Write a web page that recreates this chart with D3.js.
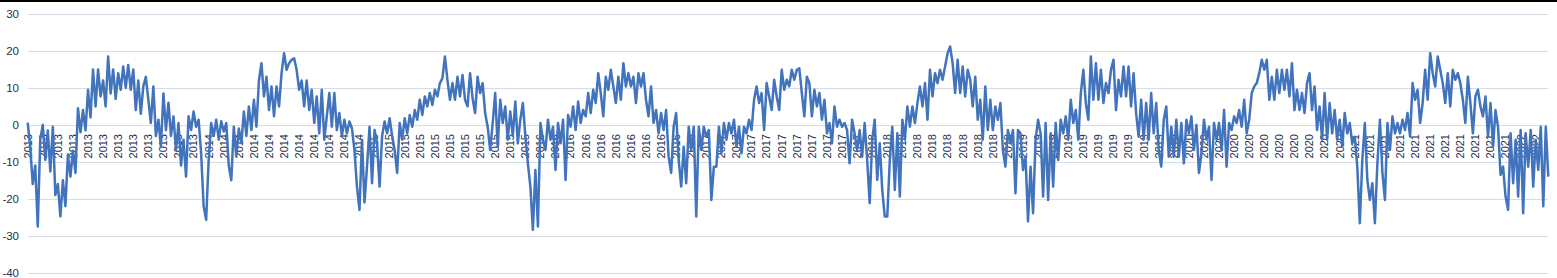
<!DOCTYPE html>
<html>
<head>
<meta charset="utf-8">
<script src="https://cdn.jsdelivr.net/npm/d3@7"></script>
<style>
  html, body { margin: 0; padding: 0; background: #fff; overflow: hidden; }
</style>
</head>
<body>
<div id="chart"></div>
<script>
// temperature readings, one per category
const temps = [
  0.6,-6,-16,-11,-27.5,-4,0,-9.5,-1.5,-12.6,
  -0.5,-19,-16,-24.8,-15,-22,-8,-14,-7,-13,
  4.5,-2,4,-1.5,9.5,2,15,5,15,7.7,
  12,5,18.5,8.5,15,7,14,9.5,15.8,10,
  16.2,9.5,15,4,12,3,10.4,13,6.8,0.5,
  10.4,-3,1.4,-6,8.5,-1.4,6,-3,2.3,-6.8,
  0.5,-11,-4,-14,2.3,-1.4,3.6,-0.5,1.4,-7.7,
  -22,-25.7,-9.5,0.5,-3,1.4,-4,1,-1.8,0.5,
  -11,-15,-0.5,-8.5,-1,-5,3.6,-3,5,-1.4,
  6.8,-0.5,12,16.7,7.7,13,4,10.4,2.3,10.4,
  5,14,19.4,
  14.9,16.7,17.6,18,14.9,9.5,12,5,12,4,
  9.5,0.5,7.7,-2.3,9.5,-4,2.3,8.6,-0.5,8.6,
  -1.4,3.2,-3,1.4,-2.3,0.9,-0.9,-6.8,-16.7,-23,
  -4,-21,-11.3,-0.5,-15.8,-1.4,-5,-16.7,-3,0.9,
  -2.3,1.8,-3,-6.8,-13,0.5,-4,1.8,-2.3,2.7,
  -0.5,4,1.4,6.8,2.7,7.7,5,8.6,5.4,9.5,
  7.7,11.3,12.6,18.5,12.2,6.8,11.3,6.8,13,7.7,
  13.5,6.8,5,14,7.2,3.2,13,8.6,11.3,3.2,
  -0.5,-6.8,0.5,8.6,-5.9,6.8,0.5,5,-4,3.6,
  -3,6.3,-5,1.4,5.9,-3,-10.4,-16.7,-28.4,-12.2,
  -27.5,
  0.5,-4,-6.8,1.4,-4,-0.5,-12.2,0.5,-5,1.4,
  -14.9,2.7,-0.5,5,-1.4,6.3,0.5,4,2.3,8.6,
  3.2,9.5,5.9,14,8.6,2.3,13,9.5,14.9,10.4,
  5.9,13,6.8,16.7,10.4,14,10.4,13,5.9,14,
  10.4,14,6.8,2.3,10.4,0.5,4,-2.3,3.2,-1.4,
  4,-8.6,-13,-0.5,3.2,-9.5,-16.7,-5.9,-15.8,-0.5,
  -6.8,-0.5,-24.8,-0.5,-6.8,-0.5,-3.2,-1.4,-20.3,-11.3,
  -11.3,-0.5,-7.7,0.5,-4,0.5,-2.3,1.4,-5.9,-0.5,
  -7.7,-0.5,-2.3,1.4,-1.4,6.8,10.4,5.9,8.6,-1.4,
  11.3,7.7,4,12.2,7.7,4,14.9,9.5,12.2,10.4,
  14.9,12.2,
  14.9,15.3,8.6,2.3,13,11.3,2.3,9.5,5,8.6,
  1.4,6.8,-2.3,0.5,-5,5,-0.5,1.4,-0.5,0.5,
  -1.4,-10.4,1.4,-2.3,-6.8,-1.4,-8.6,0.5,-9.5,-21.2,
  -4,1.4,-14.9,-5,-17.6,-24.8,-24.8,-9.5,-0.5,-17.6,
  -2.3,-19.4,1.4,-4,5,-0.5,5,0.5,5.9,10.4,
  5,11.3,1.4,14.9,7.7,14,11.3,14.9,12.2,15.8,
  19.4,21.2,16.7,8.6,17.6,8.6,15.8,7.7,14.9,12.2,
  5,13,1.4,6.8,-4,10.4,-1.4,6.8,-1.4,5,
  1.4,5.9,-6.8,-11.3,-1.4,-5,-1.4,-18.5,-1.4,-2.3,
  -12.2,-8.6,-26.1,-11.3,-23.9,-4,1.4,-2.3,-19.4,0.5,
  -20.3,
  -2.3,-16.7,0.5,-9.5,1.4,-2.3,2.3,-4,6.8,0.5,
  4,-4,8.6,14.9,5.9,1.4,18.5,6.8,16.7,6.8,
  14.9,5.9,11.3,8.6,14.9,17.6,4,12.2,7.7,15.8,
  7.7,15.8,5,14,3.2,-3.2,6.8,-4,5.9,-4,
  8.6,-2.3,5.9,-6.8,-11.3,1.4,5,-8.6,-0.5,-8.6,
  1.4,-8.6,0.5,-10.4,1.4,-2.3,2.3,-6.8,0,-13,
  -7.7,1.4,-4,-0.5,-14.9,0.5,-4,0.5,-6.8,4,
  -11.3,0.5,-1.4,2.3,0.5,4,-0.5,6.8,-2.3,1.4,
  8.6,10.4,11.3,14,17.6,14.9,17.6,6.8,13,6.8,
  14.9,8.6,14.9,9.5,14.9,7.7,16.7,4,9.5,4,
  8.6,3.2,
  11.3,14,4,10.4,-1.4,5,-4,8.6,-4,5.9,
  -2.3,4,-4,1.4,-5.9,3.2,-2.3,0.5,-5,-3.2,
  -11.3,-26.6,-9.5,0.5,-14.9,-20.3,-15.8,-26.6,-10.4,1.4,
  -13,-20.3,0.5,-6.8,2.3,-2.3,0.5,-2.3,1.4,-1.4,
  3.2,-3.2,11.3,6.8,9.5,0.5,5.9,14.9,6.8,19.4,
  14,10.4,18.5,14.9,11.3,5.9,14,5,14.9,12.2,
  14,11.3,6.8,0.5,13,5.9,-2.3,7.7,9.5,5,
  2.3,7.7,-3.2,5.9,-5.9,4,-0.5,-13.5,-11.3,-19.4,
  -23,-2.3,-15.8,-4,-19.4,-1.4,-23.9,-2.3,-11.3,-1.4,
  -16.7,-4,-12.2,-0.5,-22,-0.5,-14
];

// category labels shown on the axis (every 6th category)
const tickYears = [
  "2013","2013","2013","2013","2013","2013","2013","2013","2013","2013","2013","2013",
  "2014","2014","2014","2014","2014","2014","2014","2014","2014","2014","2014",
  "2015","2015","2015","2015","2015","2015","2015","2015","2015","2015","2015",
  "2016","2016","2016","2016","2016","2016","2016","2016","2016","2016","2016",
  "2017","2017","2017","2017","2017","2017","2017","2017","2017","2017","2017",
  "2018","2018","2018","2018","2018","2018","2018","2018","2018","2018",
  "2019","2019","2019","2019","2019","2019","2019","2019","2019","2019","2019",
  "2020","2020","2020","2020","2020","2020","2020","2020","2020","2020","2020",
  "2021","2021","2021","2021","2021","2021","2021","2021","2021","2021","2021",
  "2022","2022"
];
const labelEvery = 6;

const yTicks = [-40, -30, -20, -10, 0, 10, 20, 30];

const width = 1557, height = 278;
const textColor = "#22304d";

const svg = d3.select("#chart").append("svg")
  .attr("width", width)
  .attr("height", height);

const x = d3.scaleLinear().domain([0, temps.length - 1]).range([27.7, 1548.3]);
const y = d3.scaleLinear().domain([-40, 30]).range([272.7, 14]);

// black border on top
svg.append("rect")
  .attr("x", 0).attr("y", 0)
  .attr("width", width).attr("height", 2)
  .attr("fill", "#000");

// gridlines
svg.append("g")
  .selectAll("line")
  .data(yTicks)
  .join("line")
  .attr("x1", 28)
  .attr("x2", 1548)
  .attr("y1", d => Math.round(y(d)) + 0.5)
  .attr("y2", d => Math.round(y(d)) + 0.5)
  .attr("stroke", "#d5dce8")
  .attr("stroke-width", 1);

// y labels
svg.append("g")
  .selectAll("text")
  .data(yTicks)
  .join("text")
  .attr("x", 19)
  .attr("y", d => y(d))
  .attr("dy", "0.35em")
  .attr("text-anchor", "end")
  .attr("font-family", "Liberation Sans, Arial, sans-serif")
  .attr("font-size", 11.5)
  .attr("fill", textColor)
  .text(d => d);

// category labels, rotated, hanging below the zero line
svg.append("g")
  .selectAll("text")
  .data(tickYears)
  .join("text")
  .attr("transform", (d, i) => `translate(${x(i * labelEvery)},134) rotate(-90)`)
  .attr("dy", "0.35em")
  .attr("text-anchor", "end")
  .attr("font-family", "Liberation Sans, Arial, sans-serif")
  .attr("font-size", 11)
  .attr("fill", textColor)
  .text(d => d);

// Draw line
const line = d3.line()
  .x((d, i) => x(i))
  .y(d => y(d));

svg.append("path")
  .datum(temps)
  .attr("fill", "none")
  .attr("stroke", "#4273bd")
  .attr("stroke-width", 2.5)
  .attr("stroke-linejoin", "round")
  .attr("d", line);
</script>
</body>
</html>
